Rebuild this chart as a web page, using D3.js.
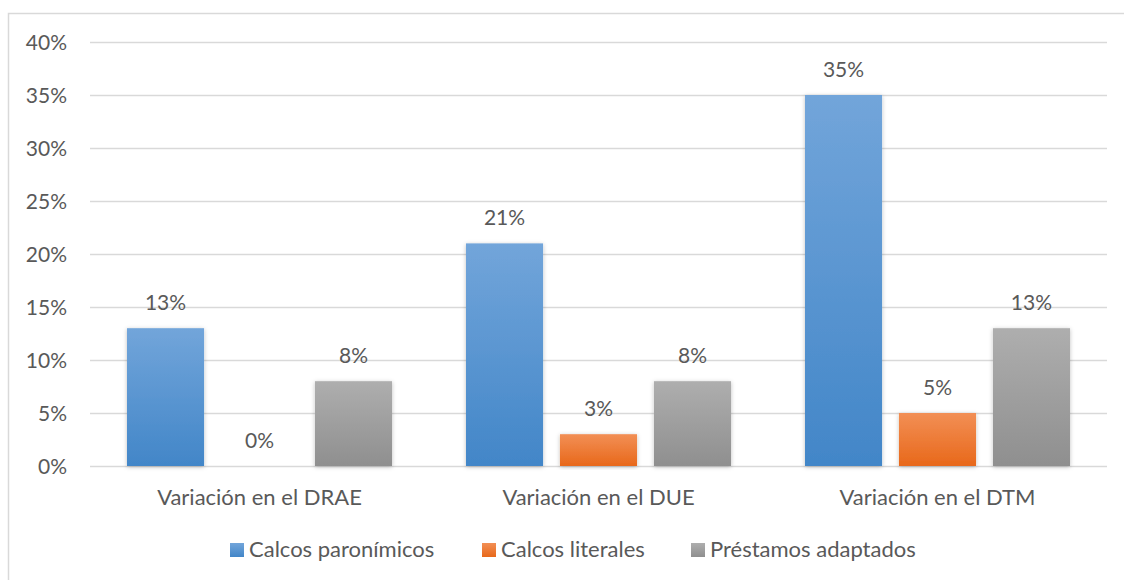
<!DOCTYPE html>
<html>
<head>
<meta charset="utf-8">
<script src="https://cdn.jsdelivr.net/npm/d3@7"></script>
<style>
  body { margin: 0; background: #fff; }
  text { font-family: Lato, "Open Sans", sans-serif; fill: #595959; }
</style>
</head>
<body>
<script>
var categories = ["Variación en el DRAE", "Variación en el DUE", "Variación en el DTM"];
var seriesNames = ["Calcos paronímicos", "Calcos literales", "Préstamos adaptados"];
var paronimicos = [0.13, 0.21, 0.35];
var literales = [0, 0.03, 0.05];
var prestamos = [0.08, 0.08, 0.13];
var yTicks = [0, 0.05, 0.10, 0.15, 0.20, 0.25, 0.30, 0.35, 0.40];

var values = [paronimicos, literales, prestamos];
var gradients = [
    ["#72a5da", "#4286c8"],
    ["#f28f55", "#e8681a"],
    ["#aeaeae", "#8f8f8f"]
];

var width = 1124, height = 580;
var plotLeft = 90, plotRight = 1107, plotTop = 42, plotBottom = 466;

var svg = d3.select("body").append("svg")
    .attr("width", width)
    .attr("height", height);

var defs = svg.append("defs");
gradients.forEach(function(g, i) {
    var lg = defs.append("linearGradient")
        .attr("id", "grad" + i)
        .attr("x1", 0).attr("y1", 0).attr("x2", 0).attr("y2", 1);
    lg.append("stop").attr("offset", "0%").attr("stop-color", g[0]);
    lg.append("stop").attr("offset", "100%").attr("stop-color", g[1]);
});
var shadow = defs.append("filter").attr("id", "shadow")
    .attr("x", "-20%").attr("y", "-10%").attr("width", "140%").attr("height", "120%");
shadow.append("feDropShadow")
    .attr("dx", 0).attr("dy", 1).attr("stdDeviation", 2)
    .attr("flood-color", "#000").attr("flood-opacity", 0.25);

// chart frame
svg.append("path")
    .attr("d", "M8.5," + height + "V13.5H" + width)
    .attr("fill", "none")
    .attr("stroke", "#d9d9d9")
    .attr("stroke-width", 1.5);

var y = d3.scaleLinear().domain([0, 0.40]).range([plotBottom, plotTop]);
var x0 = d3.scaleBand().domain(categories).range([plotLeft, plotRight]);
var x1 = d3.scaleBand().domain(seriesNames)
    .range([37, x0.bandwidth() - 37])
    .paddingInner(0.18);
var pct = d3.format(".0%");

// gridlines
svg.append("g").selectAll("line")
    .data(yTicks)
    .enter().append("line")
    .attr("x1", plotLeft).attr("x2", plotRight)
    .attr("y1", function(d) { return Math.round(y(d)) + 0.5; })
    .attr("y2", function(d) { return Math.round(y(d)) + 0.5; })
    .attr("stroke", "#d9d9d9")
    .attr("stroke-width", 1.5);

// y labels
svg.append("g").selectAll("text")
    .data(yTicks)
    .enter().append("text")
    .attr("x", 67)
    .attr("y", function(d) { return y(d); })
    .attr("dy", "0.36em")
    .attr("text-anchor", "end")
    .attr("font-size", 21)
    .text(pct);

// bars
var group = svg.append("g").selectAll("g")
    .data(categories)
    .enter().append("g")
    .attr("transform", function(d) { return "translate(" + x0(d) + ",0)"; });

function rows(d, ci) {
    return seriesNames.map(function(s, si) {
        return {s: s, si: si, v: values[si][ci]};
    });
}

group.selectAll("rect")
    .data(rows)
    .enter().append("rect")
    .filter(function(d) { return d.v > 0; })
    .attr("x", function(d) { return x1(d.s); })
    .attr("y", function(d) { return y(d.v); })
    .attr("width", x1.bandwidth())
    .attr("height", function(d) { return y(0) - y(d.v); })
    .attr("fill", function(d) { return "url(#grad" + d.si + ")"; })
    .attr("filter", "url(#shadow)");

group.selectAll("text")
    .data(rows)
    .enter().append("text")
    .attr("x", function(d) { return x1(d.s) + x1.bandwidth() / 2; })
    .attr("y", function(d) { return y(d.v) - 18; })
    .attr("text-anchor", "middle")
    .attr("font-size", 21)
    .text(function(d) { return pct(d.v); });

// category labels
svg.append("g").selectAll("text")
    .data(categories)
    .enter().append("text")
    .attr("x", function(d) { return x0(d) + x0.bandwidth() / 2; })
    .attr("y", 505)
    .attr("text-anchor", "middle")
    .attr("font-size", 22)
    .text(function(d) { return d; });

// legend
var legendX = [230, 482, 691];
var legend = svg.append("g").selectAll("g")
    .data(seriesNames)
    .enter().append("g")
    .attr("transform", function(d, i) { return "translate(" + legendX[i] + ",543)"; });
legend.append("rect")
    .attr("width", 14).attr("height", 14)
    .attr("fill", function(d, i) { return "url(#grad" + i + ")"; });
legend.append("text")
    .attr("x", 19)
    .attr("y", 14)
    .attr("font-size", 22)
    .text(function(d) { return d; });
</script>
</body>
</html>
